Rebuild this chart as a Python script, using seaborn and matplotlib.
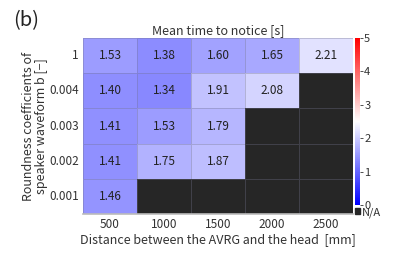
import matplotlib
matplotlib.use("Agg")
import matplotlib.pyplot as plt
import matplotlib.patches as mpatches
import seaborn as sns
import numpy as np
import pandas as pd

# data
distances = [500, 1000, 1500, 2000, 2500]
roundness = ["1", "0.004", "0.003", "0.002", "0.001"]
row_1 = [1.53, 1.38, 1.60, 1.65, 2.21]
row_0004 = [1.40, 1.34, 1.91, 2.08, np.nan]
row_0003 = [1.41, 1.53, 1.79, np.nan, np.nan]
row_0002 = [1.41, 1.75, 1.87, np.nan, np.nan]
row_0001 = [1.46, np.nan, np.nan, np.nan, np.nan]
cbar_ticks = [0, 1, 2, 3, 4, 5]

sns.set_style("white")
plt.rcParams['font.family'] = ['Noto Sans CJK JP', 'DejaVu Sans']

df = pd.DataFrame([row_1, row_0004, row_0003, row_0002, row_0001],
                  index=roundness, columns=distances)

W, H = 399, 263
fig = plt.figure(figsize=(W / 100, H / 100), dpi=100)
ax = fig.add_axes([83 / W, 1 - 214 / H, 270 / W, 176 / H])
cax = fig.add_axes([355 / W, 1 - 205 / H, 5 / W, 167 / H])

cmap = plt.get_cmap('bwr').copy()
cmap.set_bad('#262626')

sns.heatmap(df, ax=ax, cbar_ax=cax, cmap=cmap, vmin=0, vmax=5,
            annot=True, fmt='.2f', annot_kws={'fontsize': 8.5, 'color': '#222222'},
            linewidths=0.6, linecolor=(0.45, 0.45, 0.55, 0.35))

ax.set_facecolor('#262626')
ax.tick_params(length=0, labelsize=8.5, colors='#333333', pad=3)
ax.set_yticklabels(roundness, rotation=0)
ax.set_xticklabels(distances, rotation=0)
for side in ['top', 'left', 'right']:
    ax.spines[side].set_visible(False)
ax.spines['bottom'].set_visible(True)
ax.spines['bottom'].set_color('#bbbbbb')
ax.spines['bottom'].set_linewidth(1.2)

ax.set_title('Mean time to notice [s]', fontsize=9, color='#333333', pad=3)
ax.set_xlabel('Distance between the AVRG and the head  [mm]', fontsize=9,
              color='#333333', labelpad=1)
ax.set_ylabel('Roundness coefficients of\nspeaker waveform b [−]', fontsize=9,
              color='#333333', labelpad=1, linespacing=0.95)

cb = ax.collections[0].colorbar
cb.set_ticks(cbar_ticks)
cb.outline.set_visible(False)
cax.tick_params(length=2, width=0.6, labelsize=8, colors='#333333', pad=1)

# N/A swatch below the colorbar
fig.patches.append(mpatches.Rectangle((355 / W, 1 - 214 / H), 5 / W, 6 / H,
                                      transform=fig.transFigure, color='#262626'))
fig.text(362 / W, 1 - 213 / H, 'N/A', fontsize=8, color='#333333', va='center')

fig.text(13 / W, 1 - 21 / H, '(b)', fontsize=14.5, color='#222222', va='center')

fig.savefig('out.png', dpi=100)
